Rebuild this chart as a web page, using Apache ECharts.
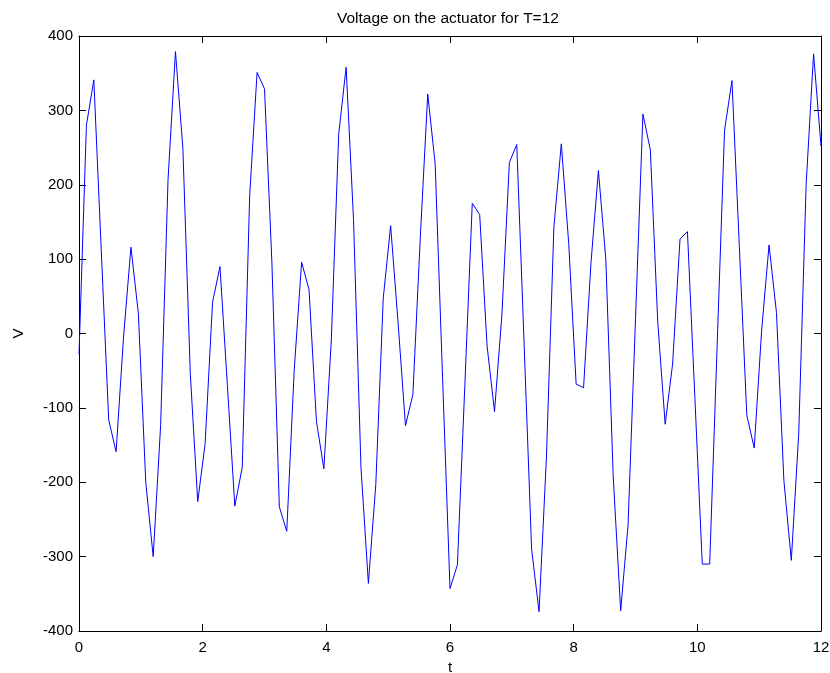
<!DOCTYPE html>
<html>
<head>
<meta charset="utf-8">
<script src="https://cdn.jsdelivr.net/npm/echarts@6/dist/echarts.min.js"></script>
<style>
  html, body { margin: 0; padding: 0; background: #fff; }
  #chart { width: 830px; height: 673px; }
</style>
</head>
<body>
<div id="chart"></div>
<script>
// sample step of the recorded signal (s)
const tStep = 0.12;
// voltage samples, one per step from t=0 to t=12
const voltage = [
  -28, 280, 341, 112, -116, -159, -5, 116, 27, -200,
  -300, -124, 207, 379, 249, -54, -226, -148, 42, 90,
  -70, -232, -180, 185, 351, 329, 95, -233, -266, -50,
  96, 59, -118, -182, -10, 268, 358, 153, -180, -336,
  -203, 47, 145, 15, -124, -82, 130, 322, 228, -60,
  -343, -311, -70, 175, 160, -17, -105, 26, 230, 254,
  -17, -290, -374, -166, 143, 255, 121, -68, -73, 95,
  219, 100, -193, -373, -257, 20, 295, 247, 15, -122,
  -41, 127, 137, -86, -310, -310, -17, 273, 340, 116,
  -110, -154, 4, 119, 28, -198, -305, -134, 201, 376,
  252
];
const xTicks = [0, 12, 2];      // min, max, step
const yTicks = [-400, 400, 100];

const points = voltage.map((v, i) => [+(i * tStep).toFixed(2), v]);

const font = 'Liberation Sans, Arial, Helvetica, sans-serif';
// matlab style box: black frame, ticks pointing inward on all four sides
const axisCommon = {
  axisLine: { show: true, onZero: false, lineStyle: { color: '#000', width: 1 } },
  axisTick: { show: true, inside: true, length: 7, lineStyle: { color: '#000', width: 1 } },
  splitLine: { show: false }
};

let myChart = echarts.init(document.getElementById('chart'));
let option = {
  animation: false,
  backgroundColor: '#fff',
  title: {
    text: 'Voltage on the actuator for T=12',
    left: 332, top: 6,   // centred over the plot box, not the page
    textStyle: { fontFamily: font, fontSize: 15.5, fontWeight: 'normal', color: '#000' }
  },
  grid: { left: 79, right: 9, top: 36, bottom: 42, containLabel: false, outerBoundsMode: 'none' },
  xAxis: [
    Object.assign({
      type: 'value', min: xTicks[0], max: xTicks[1], interval: xTicks[2],
      position: 'bottom',
      name: 't', nameLocation: 'middle', nameGap: 22,
      nameTextStyle: { fontFamily: font, fontSize: 15, color: '#000' },
      axisLabel: { fontFamily: font, fontSize: 15, color: '#000', margin: 9,
                   showMinLabel: true, showMaxLabel: true }
    }, axisCommon),
    Object.assign({
      type: 'value', min: xTicks[0], max: xTicks[1], interval: xTicks[2],
      position: 'top', axisLabel: { show: false }
    }, axisCommon)
  ],
  yAxis: [
    Object.assign({
      type: 'value', min: yTicks[0], max: yTicks[1], interval: yTicks[2],
      position: 'left',
      name: 'V', nameLocation: 'middle', nameGap: 53, nameRotate: 90,
      nameTextStyle: { fontFamily: font, fontSize: 15, color: '#000' },
      axisLabel: { fontFamily: font, fontSize: 15, color: '#000', margin: 6,
                   showMinLabel: true, showMaxLabel: true }
    }, axisCommon),
    Object.assign({
      type: 'value', min: yTicks[0], max: yTicks[1], interval: yTicks[2],
      position: 'right', axisLabel: { show: false }
    }, axisCommon)
  ],
  series: [
    {
      type: 'line',
      data: points,
      symbol: 'none',
      smooth: false,
      lineStyle: { color: '#0000ff', width: 1 },
      clip: true
    }
  ]
};
option && myChart.setOption(option);
</script>
</body>
</html>
